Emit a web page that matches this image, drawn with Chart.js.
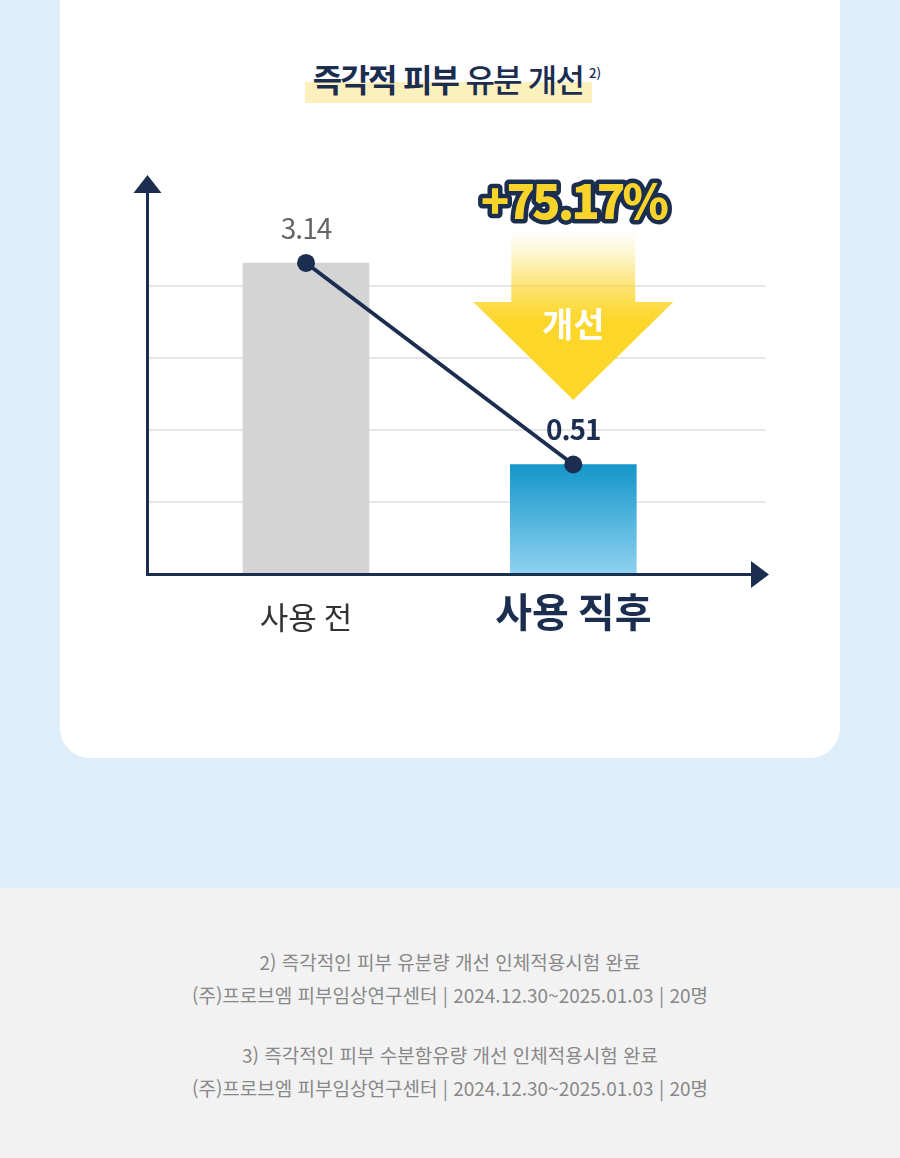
<!DOCTYPE html>
<html lang="ko">
<head>
<meta charset="utf-8">
<script src="https://cdn.jsdelivr.net/npm/chart.js@4"></script>
<style>
  html, body { margin: 0; padding: 0; }
  body {
    width: 900px; height: 1158px; position: relative; overflow: hidden;
    background: #ddedf9;
    font-family: 'Noto Sans CJK KR', 'Noto Sans', sans-serif;
  }
  .card {
    position: absolute; left: 60px; top: -40px; width: 780px; height: 798px;
    background: #fff; border-radius: 30px;
  }
  .title-mark {
    position: absolute; left: 305px; top: 82px; width: 287px; height: 21px;
    background: #fcf1bd;
  }
  .title {
    position: absolute; left: 0; top: 52px; width: 914px; text-align: center;
    font-size: 32px; line-height: 42px; color: #1c2e50; letter-spacing: -1.8px;
    font-weight: 500;
  }
  .title b { font-weight: 700; }
  .title sup { font-size: 13px; vertical-align: 14px; margin-left: 6px; letter-spacing: 0; }
  #oilChart { position: absolute; left: 0; top: 0; }
  .foot {
    position: absolute; left: 0; top: 888px; width: 900px; height: 270px;
    background: #f2f2f2;
  }
  .foot p {
    position: absolute; left: 0; width: 900px; margin: 0; text-align: center;
    font-size: 19px; line-height: 24px; color: #888888; letter-spacing: 0;
  }
</style>
</head>
<body>
<div class="card"></div>
<div class="title-mark"></div>
<div class="title"><b>즉각적 피부</b> 유분 개선<sup>2)</sup></div>
<canvas id="oilChart" width="900" height="700"></canvas>
<div class="foot" id="foot"></div>

<script>
const categories = ['사용 전', '사용 직후'];
const oilValues = [3.14, 0.51];
const valueLabels = ['3.14', '0.51'];
const changeText = '+75.17%';
const changeWord = '개선';
const footnotes = [
  '2) 즉각적인 피부 유분량 개선 인체적용시험 완료',
  '(주)프로브엠 피부임상연구센터 | 2024.12.30~2025.01.03 | 20명',
  '3) 즉각적인 피부 수분함유량 개선 인체적용시험 완료',
  '(주)프로브엠 피부임상연구센터 | 2024.12.30~2025.01.03 | 20명'
];

// scale window (the bars are not drawn from zero in the original)
const Y_MIN = -0.919, Y_MAX = 4.223, GRID_STEP = 0.94;
const X_MIN = -0.595, X_MAX = 1.721;

const NAVY = '#1c2e50';
const FONT = "'Noto Sans CJK KR', 'Noto Sans', sans-serif";
Chart.defaults.font.family = FONT;

const footTops = [62, 95, 155, 188];
footnotes.forEach((t, i) => {
  const p = document.createElement('p');
  p.textContent = t;
  p.style.top = footTops[i] + 'px';
  document.getElementById('foot').appendChild(p);
});

const points = oilValues.map((v, i) => ({ x: i, y: v }));

const decor = {
  id: 'decor',
  beforeDatasetsDraw(chart) {
    const { ctx, chartArea } = chart;
    const cx = chart.scales.x.getPixelForValue(1);
    const top = chartArea.top;
    const sTop = top + 50, hBase = top + 122, tip = top + 220;
    const g = ctx.createLinearGradient(0, sTop, 0, hBase + 20);
    g.addColorStop(0, 'rgba(252,214,40,0)');
    g.addColorStop(0.2, 'rgba(252,214,40,0.15)');
    g.addColorStop(0.75, 'rgba(252,214,40,0.8)');
    g.addColorStop(1, 'rgba(252,214,40,1)');
    ctx.save();
    ctx.fillStyle = g;
    ctx.beginPath();
    ctx.moveTo(cx - 62, sTop);
    ctx.lineTo(cx + 62, sTop);
    ctx.lineTo(cx + 62, hBase);
    ctx.lineTo(cx + 100, hBase);
    ctx.lineTo(cx, tip);
    ctx.lineTo(cx - 100, hBase);
    ctx.lineTo(cx - 62, hBase);
    ctx.closePath();
    ctx.fill();
    ctx.fillStyle = '#fff';
    ctx.font = '700 34px ' + FONT;
    ctx.textAlign = 'center';
    ctx.textBaseline = 'middle';
    ctx.fillText(changeWord, cx, hBase + 22);
    ctx.restore();
  },
  afterDatasetsDraw(chart) {
    const { ctx, chartArea } = chart;
    const l = chartArea.left, b = chartArea.bottom;
    ctx.save();
    ctx.strokeStyle = NAVY;
    ctx.fillStyle = NAVY;
    ctx.lineWidth = 3;
    ctx.beginPath();
    ctx.moveTo(l + 0.5, b + 2);
    ctx.lineTo(l + 0.5, chartArea.top + 10);
    ctx.moveTo(l - 1, b + 0.5);
    ctx.lineTo(chartArea.right - 12, b + 0.5);
    ctx.stroke();
    ctx.beginPath();
    ctx.moveTo(l + 0.5, chartArea.top - 5);
    ctx.lineTo(l + 14.5, chartArea.top + 13);
    ctx.lineTo(l - 13.5, chartArea.top + 13);
    ctx.closePath();
    ctx.fill();
    ctx.beginPath();
    ctx.moveTo(chartArea.right + 3, b + 0.5);
    ctx.lineTo(chartArea.right - 15, b + 14);
    ctx.lineTo(chartArea.right - 15, b - 13);
    ctx.closePath();
    ctx.fill();

    // value labels
    const bars = chart.getDatasetMeta(0).data;
    ctx.textAlign = 'center';
    ctx.textBaseline = 'middle';
    bars.forEach((bar, i) => {
      ctx.font = (i === 0 ? '400 ' : '700 ') + '28px ' + FONT;
      ctx.fillStyle = i === 0 ? '#666666' : NAVY;
      ctx.letterSpacing = '-1px';
      ctx.fillText(valueLabels[i], bar.x, bar.y - 35);
    });

    // change badge
    const cx = chart.scales.x.getPixelForValue(1);
    ctx.font = '900 47px ' + FONT;
    ctx.letterSpacing = '-3px';
    ctx.textBaseline = 'alphabetic';
    ctx.lineJoin = 'round';
    ctx.lineWidth = 9;
    ctx.strokeStyle = NAVY;
    ctx.strokeText(changeText, cx, 219);
    ctx.fillStyle = '#f8d42a';
    ctx.fillText(changeText, cx, 219);
    ctx.restore();
  }
};

new Chart(document.getElementById('oilChart'), {
  data: {
    datasets: [
      {
        type: 'bar',
        data: points,
        base: Y_MIN,
        barThickness: 126,
        order: 1,
        backgroundColor(c) {
          if (c.dataIndex === 0) return '#d4d4d4';
          const area = c.chart.chartArea;
          if (!area) return '#1a98cc';
          const yTop = c.chart.scales.y.getPixelForValue(oilValues[1]);
          const g = c.chart.ctx.createLinearGradient(0, yTop, 0, area.bottom);
          g.addColorStop(0, '#1496ca');
          g.addColorStop(1, '#8fd2f0');
          return g;
        }
      },
      {
        type: 'line',
        data: points,
        order: 0,
        borderColor: NAVY,
        borderWidth: 4,
        pointRadius: 9,
        pointBackgroundColor: NAVY,
        pointBorderWidth: 0
      }
    ]
  },
  options: {
    responsive: false,
    animation: false,
    layout: { padding: { left: 147, right: 134, top: 180, bottom: 0 } },
    plugins: { legend: { display: false }, tooltip: { enabled: false } },
    scales: {
      x: {
        type: 'linear',
        offset: false,
        min: X_MIN,
        max: X_MAX,
        grid: { display: false, offset: false },
        border: { display: false },
        afterBuildTicks(s) { s.ticks = categories.map((c, i) => ({ value: i })); },
        afterFit(s) { s.height = 126; },
        ticks: {
          padding: 30,
          maxRotation: 0,
          autoSkip: false,
          crossAlign: 'center',
          callback: (v, i) => categories[i],
          color: (c) => c.index === 0 ? '#333333' : NAVY,
          font: (c) => c.index === 0 ? { size: 31, weight: '400' } : { size: 40, weight: '700' }
        }
      },
      y: {
        min: Y_MIN,
        max: Y_MAX,
        afterBuildTicks(s) { s.ticks = [0, 1, 2, 3, 4].map(k => ({ value: Y_MIN + k * GRID_STEP })); },
        afterFit(s) { s.width = 0; },
        ticks: { display: false },
        border: { display: false },
        grid: { color: '#e6e6e6', lineWidth: 2, drawTicks: false }
      }
    }
  },
  plugins: [decor]
});
</script>
</body>
</html>
